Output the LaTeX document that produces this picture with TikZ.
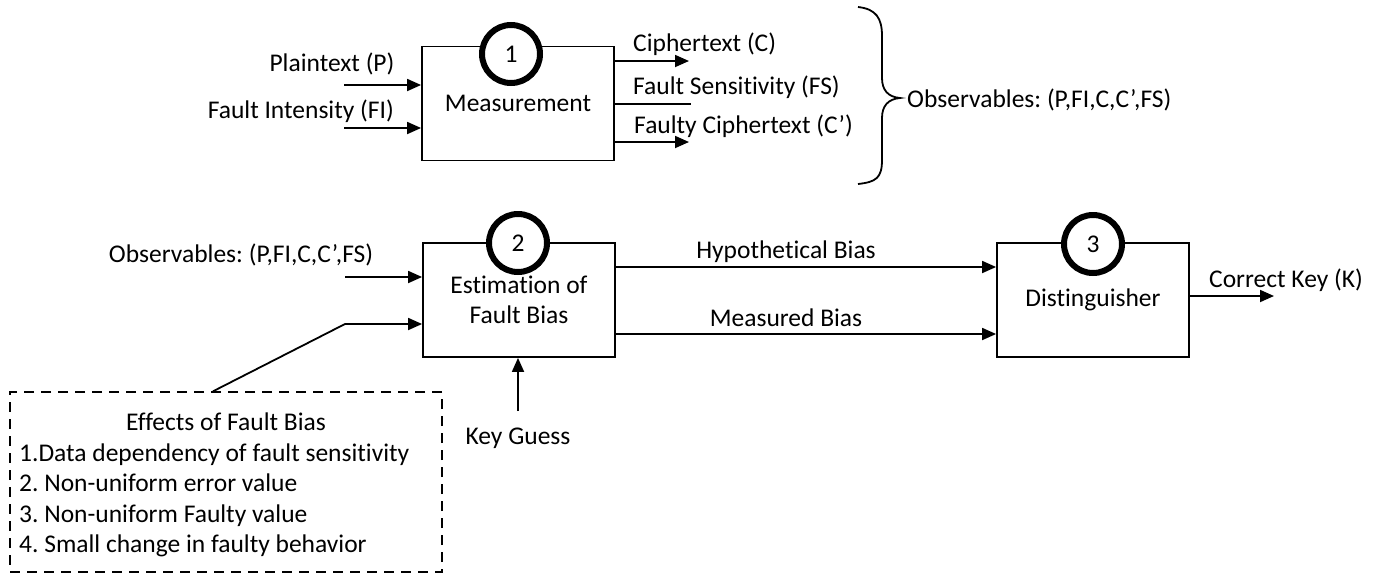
\documentclass[tikz,border=0pt]{standalone}
\usepackage{fontspec}
\setmainfont{Carlito}[Ligatures=NoCommon]
\frenchspacing
\usetikzlibrary{arrows.meta}
\begin{document}
\begin{tikzpicture}[x=1pt,y=-1pt,
  font=\fontsize{25.5}{30}\selectfont,
  every node/.style={inner sep=0pt},
  blk/.style={draw,line width=1.8pt,minimum width=192pt,minimum height=114pt,align=center},
  num/.style={circle,draw,line width=6pt,fill=white,minimum size=58pt},
  arr/.style={line width=1.8pt,-{Triangle[length=14pt,width=12pt]}},
  ln/.style={line width=1.8pt},
  dbox/.style={draw,line width=1.4pt,dash pattern=on 10pt off 7pt,minimum width=432pt,minimum height=180pt}]
\useasboundingbox (0,0) rectangle (1378,576);
% boxes
\node[blk] (b1) at (518,103.5) {Measurement};
\node[blk] (b2) at (519,300) {Estimation of\\Fault Bias};
\node[blk] (b3) at (1093,300) {Distinguisher};
\node[num] (c1) at (511,54) {1};
\node[num] (c2) at (518,243) {2};
\node[num] (c3) at (1093,244) {3};
% stage 1 inputs
\coordinate (pin) at (344,85);
\coordinate (fin) at (344,128);
\draw[arr] (pin) -- (pin -| b1.west);
\draw[arr] (fin) -- (fin -| b1.west);
\node[anchor=base] (lp) at (332,71) {Plaintext (P)};
\node[anchor=base east] (lfi) at (394,118) {Fault Intensity (FI)};
% stage 1 outputs
\coordinate (cout) at (689,61);
\coordinate (fsout) at (691,104);
\coordinate (fcout) at (689,142);
\draw[arr] (cout -| b1.east) -- (cout);
\draw[ln] (fsout -| b1.east) -- (fsout);
\draw[arr] (fcout -| b1.east) -- (fcout);
\node[anchor=base west] (lc) at (633,51) {Ciphertext (C)};
\node[anchor=base west] (lfs) at (633,94) {Fault Sensitivity (FS)};
\node[anchor=base west] (lfc) at (634,133) {Faulty Ciphertext (C’)};
% brace
\draw[line width=1.8pt] (858,7) .. controls (876,9) and (882,18) .. (882,36)
  -- (882,78) .. controls (882,90) and (888,97) .. (900,98)
  .. controls (888,99) and (882,106) .. (882,118)
  -- (882,160) .. controls (882,178) and (876,182) .. (858,184);
\node[anchor=base west] (obs1) at (907,107) {Observables: (P,FI,C,C’,FS)};
% stage 2 inputs
\node[anchor=base] (obs2) at (241,262) {Observables: (P,FI,C,C’,FS)};
\coordinate (oin) at (345,277);
\draw[arr] (oin) -- (oin -| b2.west);
\node[dbox] (eff) at (226,482) {};
\coordinate (bend) at (345,324);
\draw[arr] (eff.north -| 213,0) -- (bend) -- (bend -| b2.west);
\node[anchor=base] (efft) at (226,430) {Effects of Fault Bias};
\node[anchor=base west] (e1) at (19,461) {1.Data dependency of fault sensitivity};
\node[anchor=base west] (e2) at (19,491) {2. Non-uniform error value};
\node[anchor=base west] (e3) at (19,522) {3. Non-uniform Faulty value};
\node[anchor=base west] (e4) at (19,552) {4. Small change in faulty behavior};
\node[anchor=base] (kg) at (518,444) {Key Guess};
\draw[arr] (kg.north |- 0,411) -- (kg.north |- b2.south);
% stage 2 outputs
\coordinate (hy) at (0,267);
\coordinate (me) at (0,334);
\draw[arr] (hy -| b2.east) -- (hy -| b3.west);
\draw[arr] (me -| b2.east) -- (me -| b3.west);
\node[anchor=base] (lhy) at (786,258) {Hypothetical Bias};
\node[anchor=base] (lme) at (786,326) {Measured Bias};
% output
\coordinate (kout) at (1274,296);
\draw[arr] (kout -| b3.east) -- (kout);
\node[anchor=base west] (lk) at (1209,287) {Correct Key (K)};
\end{tikzpicture}
\end{document}
